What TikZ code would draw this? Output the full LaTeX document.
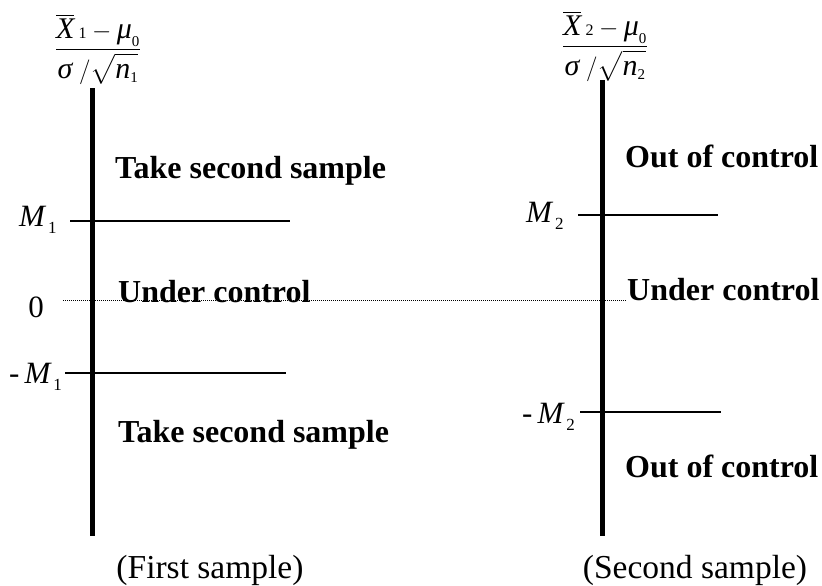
\documentclass[tikz,border=0pt]{standalone}
\usepackage{exscale}
\usepackage{fontspec}
\setmainfont{Liberation Serif}
\newcommand{\fracsub}[1]{\mbox{\fontsize{15}{15}\selectfont #1}}
\newcommand{\zfrac}[1]{\ensuremath{\displaystyle\frac{\overline{\mbox{\itshape X}}\,\mbox{\fontsize{16}{16}\selectfont #1}-\mbox{\itshape μ}_{\fracsub{0}}}{\mbox{\itshape σ}\;/\sqrt{\rule[-2pt]{0pt}{22pt}\mbox{\itshape n}_{\fracsub{#1}}}}}}
\newcommand{\Mlab}[1]{{\itshape M}\hspace{3pt}\raisebox{-7pt}{\fontsize{17}{17}\selectfont #1}}
\tikzset{
  lbl/.style={font=\fontsize{32}{36}\selectfont\bfseries, inner sep=0pt},
  capt/.style={font=\fontsize{33.5}{38}\selectfont, inner sep=0pt},
  mlbl/.style={font=\fontsize{31}{33}\selectfont, inner sep=0pt},
  fr/.style={font=\fontsize{30}{34}\selectfont, inner sep=0pt},
  axisline/.style={line width=5pt},
  limline/.style={line width=2.6pt},
  zeroline/.style={line width=0.7pt, dash pattern=on 0.8pt off 1.2pt}
}
\begin{document}
\begin{tikzpicture}[x=1pt,y=-1pt]
\useasboundingbox (0,0) rectangle (822,586);
% coordinates
\coordinate (a1top) at (92,88);
\coordinate (a1bot) at (92,536);
\coordinate (a2top) at (602,80);
\coordinate (a2bot) at (602,536);
\coordinate (m1s) at (70,221);
\coordinate (m1e) at (290,221);
\coordinate (n1s) at (65,373);
\coordinate (n1e) at (286,373);
\coordinate (m2s) at (578,215);
\coordinate (m2e) at (718,215);
\coordinate (n2s) at (580,412);
\coordinate (n2e) at (721,412);
\coordinate (zs) at (63,300);
\coordinate (ze) at (626,300);
% lines
\draw[zeroline] (zs) -- (ze);
\draw[axisline] (a1top) -- (a1bot);
\draw[axisline] (a2top) -- (a2bot);
\draw[limline] (m1s) -- (m1e);
\draw[limline] (n1s) -- (n1e);
\draw[limline] (m2s) -- (m2e);
\draw[limline] (n2s) -- (n2e);
% fractions
\node[fr, anchor=base] (f1) at (98,56) {\zfrac{1}};
\node[fr, anchor=base] (f2) at (605,53) {\zfrac{2}};
% M labels
\node[mlbl, anchor=base west] (lm1) at (19,226) {\Mlab{1}};
\node[mlbl, anchor=base west] (ln1) at (9,383) {-\hspace{5pt}\Mlab{1}};
\node[mlbl, anchor=base west] (lm2) at (526,222) {\Mlab{2}};
\node[mlbl, anchor=base west] (ln2) at (522,423) {-\hspace{5pt}\Mlab{2}};
\node[mlbl, anchor=base] (zero) at (36,317) {0};
% region labels
\node[lbl, anchor=base west] (t1) at (115,178) {Take second sample};
\node[lbl, anchor=base west] (t2) at (118,442) {Take second sample};
\node[lbl, anchor=base west] (u1) at (118,302) {Under control};
\node[lbl, anchor=base west] (u2) at (627,300) {Under control};
\node[lbl, anchor=base west] (o1) at (625,167) {Out of control};
\node[lbl, anchor=base west] (o2) at (625,477) {Out of control};
% captions
\node[capt, anchor=base] (c1) at (210,578) {(First sample)};
\node[capt, anchor=base] (c2) at (695,578) {(Second sample)};
\end{tikzpicture}
\end{document}
